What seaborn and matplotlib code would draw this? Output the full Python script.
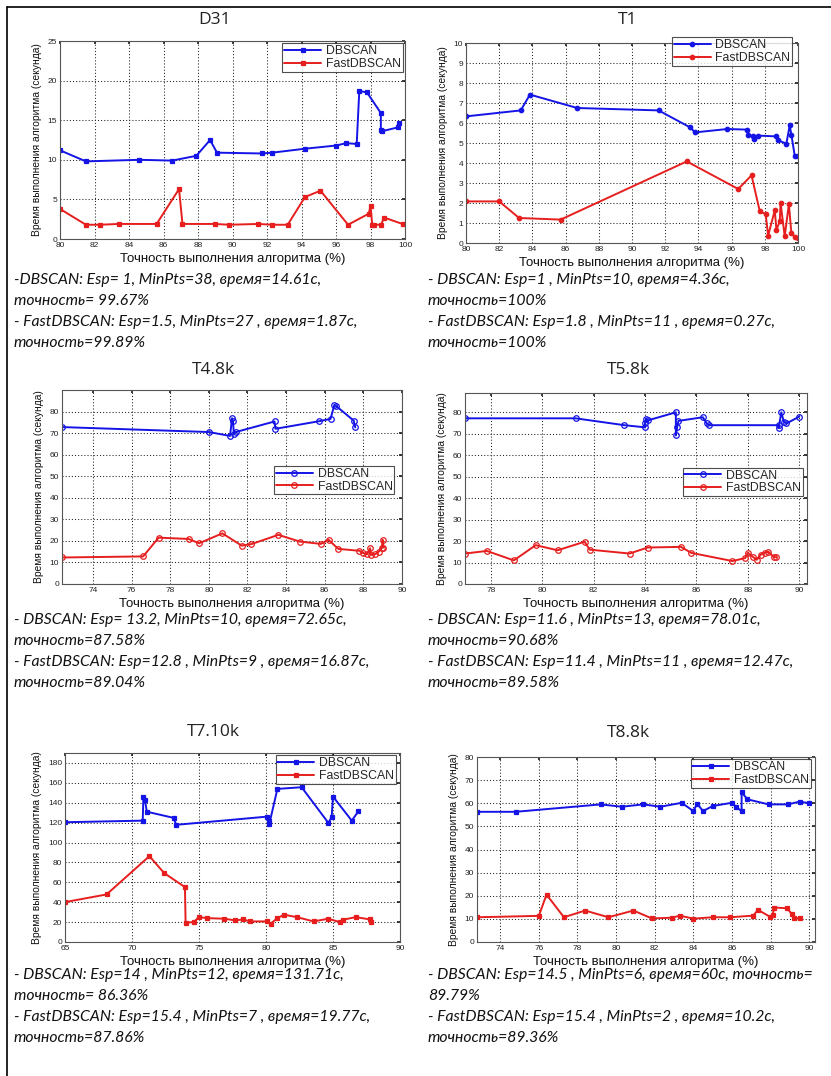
import matplotlib
matplotlib.use("Agg")
import matplotlib.pyplot as plt
from matplotlib.lines import Line2D
import seaborn as sns
import pandas as pd

# ---------------- data ----------------
titles = ["D31", "T1", "T4.8k", "T5.8k", "T7.10k", "T8.8k"]
series_names = ["DBSCAN", "FastDBSCAN"]

d31_db_x = [80.0, 81.5, 84.6, 86.5, 87.9, 88.7, 89.1, 91.7, 92.3, 94.2, 96.0, 96.6, 97.2, 97.35, 97.8,
            98.6, 98.6, 98.65, 99.6, 99.67]
d31_db_y = [11.2, 9.8, 10.0, 9.9, 10.5, 12.5, 10.9, 10.8, 10.9, 11.4, 11.8, 12.1, 12.0, 18.7, 18.5,
            15.9, 13.8, 13.6, 14.1, 14.61]
d31_fast_x = [80.0, 81.5, 82.3, 83.4, 85.6, 86.9, 87.1, 89.0, 89.8, 91.5, 92.3, 93.2, 94.2, 95.1, 96.7,
              97.9, 98.0, 98.1, 98.2, 98.6, 98.8, 99.89]
d31_fast_y = [3.8, 1.8, 1.8, 1.9, 1.9, 6.3, 1.9, 1.9, 1.8, 1.9, 1.8, 1.8, 5.3, 6.1, 1.8,
              3.2, 4.2, 1.8, 1.8, 1.8, 2.7, 1.87]

t1_db_x = [80.0, 83.3, 83.85, 86.7, 91.6, 93.5, 93.8, 95.75, 96.9, 97.0, 97.3, 97.35, 97.6, 98.7, 98.8,
           99.3, 99.5, 99.6, 99.8, 100.0]
t1_db_y = [6.33, 6.63, 7.42, 6.75, 6.63, 5.78, 5.53, 5.7, 5.67, 5.42, 5.33, 5.2, 5.37, 5.33, 5.13,
           4.97, 5.88, 5.42, 4.37, 4.36]
t1_fast_x = [80.0, 82.0, 83.2, 85.7, 93.3, 96.4, 97.2, 97.7, 98.05, 98.2, 98.6, 98.7, 98.9, 98.95,
             99.2, 99.45, 99.6, 99.8, 100.0]
t1_fast_y = [2.08, 2.08, 1.25, 1.17, 4.08, 2.7, 3.38, 1.58, 1.45, 0.37, 1.63, 0.67, 1.08, 2.0,
             0.33, 1.95, 0.5, 0.3, 0.27]

t48_db_x = [72.4, 80.0, 81.1, 81.2, 81.25, 81.3, 81.4, 83.4, 83.45, 85.7, 86.3, 86.5, 86.6, 87.5, 87.58]
t48_db_y = [72.8, 70.5, 68.7, 76.9, 75.5, 69.5, 70.5, 75.4, 72.0, 75.5, 76.6, 83.0, 82.5, 75.8, 72.65]
t48_fast_x = [72.4, 76.6, 77.4, 78.95, 79.5, 80.7, 81.7, 82.2, 83.6, 84.7, 85.8, 86.2, 86.7, 87.8, 88.0,
              88.2, 88.35, 88.4, 88.6, 88.8, 88.95, 89.0, 89.04]
t48_fast_y = [12.3, 12.8, 21.5, 20.9, 18.9, 23.5, 17.8, 18.5, 22.8, 19.7, 18.6, 20.5, 16.3, 15.4, 14.3,
              13.8, 16.6, 13.5, 13.8, 15.0, 16.6, 20.5, 16.87]

t58_db_x = [77.0, 81.3, 83.2, 84.0, 84.0, 84.05, 84.1, 85.2, 85.2, 85.25, 85.3, 86.25, 86.4, 86.5,
            89.2, 89.2, 89.3, 89.4, 89.5, 90.0]
t58_db_y = [77.2, 77.2, 74.0, 73.0, 75.0, 77.0, 76.2, 80.0, 69.2, 73.0, 76.0, 77.7, 74.8, 74.0,
            74.0, 72.7, 80.0, 75.6, 74.8, 78.0]
t58_fast_x = [77.0, 77.85, 78.9, 79.75, 80.6, 81.65, 81.85, 83.4, 84.1, 85.4, 85.8, 87.4, 87.9, 88.0,
              88.2, 88.35, 88.5, 88.65, 88.8, 89.0, 89.1]
t58_fast_y = [14.2, 15.4, 11.0, 18.1, 15.7, 19.7, 16.0, 14.2, 17.0, 17.3, 14.5, 10.7, 12.1, 14.5,
              12.6, 11.3, 13.7, 14.5, 15.0, 12.6, 12.47]

t710_db_x = [65.0, 70.8, 70.85, 70.97, 71.1, 73.1, 73.3, 80.05, 80.2, 80.25, 80.85, 82.66, 84.65,
             84.9, 85.0, 86.4, 86.9]
t710_db_y = [120.4, 122.0, 145.5, 142.9, 131.0, 124.8, 117.8, 126.0, 122.0, 118.8, 153.9, 155.6, 119.8,
             125.5, 146.2, 122.0, 131.5]
t710_fast_x = [65.0, 68.1, 71.3, 72.4, 73.95, 74.0, 74.6, 75.0, 75.6, 76.9, 77.7, 78.3, 78.8, 80.05,
               80.35, 80.85, 81.35, 82.3, 83.55, 84.65, 85.5, 85.75, 86.7, 87.75, 87.86]
t710_fast_y = [40.1, 47.8, 86.3, 69.3, 55.2, 19.4, 20.0, 25.0, 24.0, 23.4, 21.7, 22.7, 20.7, 20.7,
               18.4, 24.0, 27.4, 25.0, 20.7, 23.4, 20.0, 22.4, 25.0, 22.7, 19.77]

t88_db_x = [72.8, 74.8, 79.2, 80.3, 81.4, 82.3, 83.4, 84.0, 84.2, 84.5, 85.0, 86.0, 86.2, 86.5, 86.5,
            86.8, 87.9, 88.9, 89.5, 90.0]
t88_db_y = [56.3, 56.3, 59.5, 58.5, 59.5, 58.5, 60.2, 56.6, 59.8, 56.6, 58.8, 60.2, 58.5, 56.6, 64.8,
            61.7, 59.5, 59.5, 60.7, 60.0]
t88_fast_x = [72.8, 76.0, 76.4, 77.3, 78.4, 79.6, 80.9, 81.85, 82.9, 83.3, 84.0, 85.0, 85.9, 87.1,
              87.35, 87.95, 88.1, 88.2, 88.85, 89.1, 89.2, 89.5]
t88_fast_y = [10.7, 11.3, 20.5, 10.7, 13.6, 10.7, 13.6, 10.2, 10.5, 11.4, 10.1, 10.7, 10.7, 11.4,
              13.9, 11.0, 11.7, 14.9, 14.6, 12.1, 10.5, 10.2]

x_label = "Точность выполнения алгоритма (%)"
y_label = "Время выполнения алгоритма (секунда)"

notes = [
    ["-DBSCAN: Esp= 1, MinPts=38, время=14.61с,", "точность= 99.67%",
     "- FastDBSCAN: Esp=1.5, MinPts=27 , время=1.87с,", "точность=99.89%"],
    ["- DBSCAN: Esp=1 , MinPts=10, время=4.36с,", "точность=100%",
     "- FastDBSCAN: Esp=1.8 , MinPts=11 , время=0.27с,", "точность=100%"],
    ["- DBSCAN: Esp= 13.2, MinPts=10, время=72.65с,", "точность=87.58%",
     "- FastDBSCAN: Esp=12.8 , MinPts=9 , время=16.87с,", "точность=89.04%"],
    ["- DBSCAN: Esp=11.6 , MinPts=13, время=78.01с,", "точность=90.68%",
     "- FastDBSCAN: Esp=11.4 , MinPts=11 , время=12.47с,", "точность=89.58%"],
    ["- DBSCAN: Esp=14 , MinPts=12, время=131.71с,", "точность= 86.36%",
     "- FastDBSCAN: Esp=15.4 , MinPts=7 , время=19.77с,", "точность=87.86%"],
    ["- DBSCAN: Esp=14.5 , MinPts=6, время=60с, точность=", "89.79%",
     "- FastDBSCAN: Esp=15.4 , MinPts=2 , время=10.2с,", "точность=89.36%"],
]

# ---------------- style ----------------
sns.set_theme(style="white")
plt.rcParams["font.family"] = ["Liberation Sans", "DejaVu Sans"]

W, H = 831, 1076
fig = plt.figure(figsize=(W / 100, H / 100), dpi=100)
fig.patch.set_facecolor("white")

BLUE = "#1414e6"
RED = "#e61e1e"


def px_rect(x0, y0, x1, y1):
    return [x0 / W, 1 - y1 / H, (x1 - x0) / W, (y1 - y0) / H]


panels = [
    dict(rect=(60, 41, 405, 239), xlim=(80, 100), ylim=(0, 25), xt=range(80, 101, 2), yt=range(0, 26, 5),
         data=(d31_db_x, d31_db_y, d31_fast_x, d31_fast_y), marker="s", ms=2.6, open=False,
         leg=dict(loc="upper right", bbox_to_anchor=(1.0, 1.0)), title_xy=(215, 20)),
    dict(rect=(466, 43, 798, 243), xlim=(80, 100), ylim=(0, 10), xt=range(80, 101, 2), yt=range(0, 11),
         data=(t1_db_x, t1_db_y, t1_fast_x, t1_fast_y), marker="o", ms=3.2, open=False,
         leg=dict(loc="upper right", bbox_to_anchor=(0.99, 1.04)), title_xy=(628, 20)),
    dict(rect=(62, 390, 402, 584), xlim=(72.4, 90), ylim=(0, 90), xt=range(74, 91, 2), yt=range(0, 81, 10),
         data=(t48_db_x, t48_db_y, t48_fast_x, t48_fast_y), marker="o", ms=4.0, open=True,
         leg=dict(loc="center right", bbox_to_anchor=(0.985, 0.535)), title_xy=(213, 370)),
    dict(rect=(465, 393, 807, 584), xlim=(77, 90.3), ylim=(0, 89), xt=range(78, 91, 2), yt=range(0, 81, 10),
         data=(t58_db_x, t58_db_y, t58_fast_x, t58_fast_y), marker="o", ms=4.0, open=True,
         leg=dict(loc="center right", bbox_to_anchor=(0.995, 0.535)), title_xy=(628, 370)),
    dict(rect=(65, 753, 400, 942), xlim=(65, 90), ylim=(0, 190), xt=range(65, 91, 5), yt=range(0, 181, 20),
         data=(t710_db_x, t710_db_y, t710_fast_x, t710_fast_y), marker="s", ms=2.6, open=False,
         leg=dict(loc="upper right", bbox_to_anchor=(0.995, 1.0)), title_xy=(213, 732)),
    dict(rect=(477, 757, 815, 942), xlim=(72.8, 90.3), ylim=(0, 80), xt=range(74, 91, 2), yt=range(0, 81, 10),
         data=(t88_db_x, t88_db_y, t88_fast_x, t88_fast_y), marker="s", ms=2.2, open=False,
         leg=dict(loc="upper right", bbox_to_anchor=(0.995, 1.0)), title_xy=(628, 733)),
]

note_rows = [(280, 301, 322, 343), (620, 641, 662, 683), (975, 996, 1017, 1038)]
note_cols = (14, 428)

for i, p in enumerate(panels):
    ax = fig.add_axes(px_rect(*p["rect"]))
    xs_db, ys_db, xs_f, ys_f = p["data"]
    for xs, ys, name, col in ((xs_db, ys_db, series_names[0], BLUE), (xs_f, ys_f, series_names[1], RED)):
        df = pd.DataFrame({"x": xs, "y": ys})
        sns.lineplot(data=df, x="x", y="y", sort=False, estimator=None, ax=ax, color=col,
                     linewidth=1.4, marker=p["marker"], markersize=p["ms"],
                     markeredgecolor=col, markeredgewidth=0.9,
                     markerfacecolor="none" if p["open"] else col, label=name)
    ax.set_xlim(*p["xlim"])
    ax.set_ylim(*p["ylim"])
    ax.set_xticks(list(p["xt"]))
    ax.set_yticks(list(p["yt"]))
    ax.tick_params(axis="both", labelsize=6, length=2, direction="in", pad=2, colors="#222222",
                   top=True, right=True)
    ax.grid(True, linestyle=(0, (1, 2)), color="#222222", linewidth=0.75)
    for s in ax.spines.values():
        s.set_color("#555555")
        s.set_linewidth(0.8)
    ax.set_xlabel(x_label, fontsize=9.5, labelpad=3, color="#111111")
    ax.set_ylabel(y_label, fontsize=7.4, labelpad=4, color="#111111")
    leg = ax.legend(fontsize=8.8, frameon=True, fancybox=False, edgecolor="#222222",
                    handlelength=3.0, borderpad=0.15, labelspacing=0.05, handletextpad=0.4,
                    borderaxespad=0.2, **p["leg"])
    leg.get_frame().set_linewidth(0.8)

    tx, ty = p["title_xy"]
    fig.text(tx / W, 1 - ty / H, titles[i], ha="center", va="center", fontsize=12.5,
             family=["Open Sans", "DejaVu Sans"], color="#222222")

    col_x = note_cols[i % 2]
    rows = note_rows[i // 2]
    for line, ly in zip(notes[i], rows):
        fig.text(col_x / W, 1 - ly / H, line, ha="left", va="center", fontsize=11.3,
                 style="italic", family=["Lato", "DejaVu Sans"], color="#111111")

# page frame on the top and left edges
fig.add_artist(Line2D([7 / W, 1.0], [1 - 7 / H, 1 - 7 / H], color="black", linewidth=1.2,
                      transform=fig.transFigure))
fig.add_artist(Line2D([7 / W, 7 / W], [0.0, 1 - 7 / H], color="black", linewidth=1.2,
                      transform=fig.transFigure))

fig.savefig("out.png", dpi=100, facecolor="white")
